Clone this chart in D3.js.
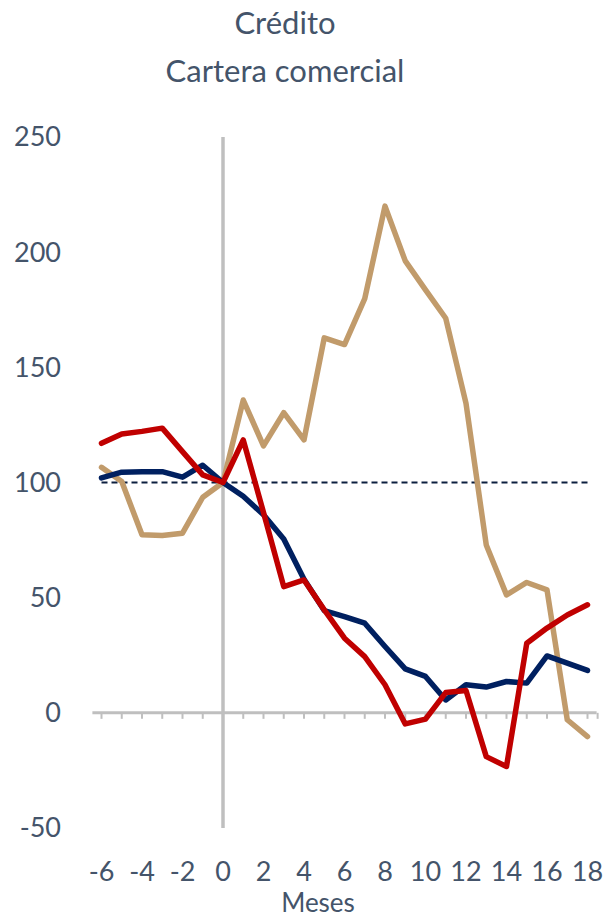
<!DOCTYPE html>
<html><head><meta charset="utf-8">
<script src="https://cdn.jsdelivr.net/npm/d3@7"></script>
<style>html,body{margin:0;padding:0;background:#fff;}svg{display:block;}</style>
</head><body>
<script>
const months = d3.range(-6, 19);
const seriesBlue = [102, 104.5, 104.7, 104.7, 102.3, 107.5, 100, 94, 86, 75.5, 58, 44.4, 41.8, 38.9, 28.8, 19.1, 15.8, 5.6, 12.2, 11.2, 13.6, 12.9, 24.7, 21.6, 18.4];
const seriesRed = [117, 121.1, 122.2, 123.6, 113.4, 103.3, 100, 118.5, 87, 54.8, 57.7, 44.7, 32.4, 24.4, 12.2, -4.8, -2.7, 8.8, 9.7, -19, -23.3, 30.2, 36.8, 42.5, 46.9];
const seriesTan = [106.6, 100.4, 77.3, 77, 78, 93.6, 100, 135.8, 115.9, 130.3, 118.5, 162.8, 159.9, 179.8, 220, 196.2, 183.6, 171.3, 134.4, 72.9, 51.2, 56.6, 53.4, -3, -10.3];
const yTicks = [-50, 0, 50, 100, 150, 200, 250];
const xTicks = [-6, -4, -2, 0, 2, 4, 6, 8, 10, 12, 14, 16, 18];
const titleLines = ["Crédito", "Cartera comercial"];
const xTitle = "Meses";
const refValue = 100;

const W = 604, H = 919;
const txt = "#44546a", grid = "#bfbfbf";
const font = "Lato, 'Open Sans', sans-serif";

const svg = d3.select("body").append("svg").attr("width", W).attr("height", H);
const x = d3.scaleLinear().domain([-6, 18]).range([101.5, 587.5]);
const y = d3.scaleLinear().domain([-50, 250]).range([828, 137]);

// title
svg.append("g").selectAll("text").data(titleLines).join("text")
  .attr("x", 285).attr("y", (d, i) => 34 + i * 48)
  .attr("text-anchor", "middle").attr("fill", txt)
  .style("font-family", font).style("font-size", "31px").text(d => d);

// y labels
svg.append("g").selectAll("text").data(yTicks).join("text")
  .attr("x", 61).attr("y", d => y(d)).attr("dy", "0.35em")
  .attr("text-anchor", "end").attr("fill", txt)
  .style("font-family", font).style("font-size", "27px").text(d => d);

// horizontal zero axis with ticks
svg.append("line").attr("x1", x(-6.45)).attr("x2", x(18.45))
  .attr("y1", y(0)).attr("y2", y(0)).attr("stroke", grid).attr("stroke-width", 3);
svg.append("g").selectAll("line").data(months.concat([18.5])).join("line")
  .attr("x1", d => x(d)).attr("x2", d => x(d))
  .attr("y1", y(0)).attr("y2", y(0) + 6)
  .attr("stroke", grid).attr("stroke-width", 2);

// vertical line at 0
svg.append("line").attr("x1", x(0)).attr("x2", x(0))
  .attr("y1", y(250)).attr("y2", y(-50)).attr("stroke", grid).attr("stroke-width", 3.5);

// reference dashed line
svg.append("line").attr("x1", x(-6)).attr("x2", x(18))
  .attr("y1", y(refValue)).attr("y2", y(refValue))
  .attr("stroke", "#0c1f3f").attr("stroke-width", 2).attr("stroke-dasharray", "6,4");

const line = d3.line().x((d, i) => x(months[i])).y(d => y(d));
const series = [
  {v: seriesTan, c: "#c19b6b"},
  {v: seriesBlue, c: "#002060"},
  {v: seriesRed, c: "#c00000"}
];
svg.append("g").selectAll("path").data(series).join("path")
  .attr("d", d => line(d.v)).attr("fill", "none")
  .attr("stroke", d => d.c).attr("stroke-width", 5.5)
  .attr("stroke-linejoin", "round").attr("stroke-linecap", "round");

// x labels
svg.append("g").selectAll("text").data(xTicks).join("text")
  .attr("x", d => x(d)).attr("y", 872).attr("dy", "0.35em")
  .attr("text-anchor", "middle").attr("fill", txt)
  .style("font-family", font).style("font-size", "27px").text(d => d);

svg.append("text").attr("x", 318).attr("y", 903).attr("dy", "0.35em")
  .attr("text-anchor", "middle").attr("fill", txt)
  .style("font-family", font).style("font-size", "26px").text(xTitle);
</script>
</body></html>
